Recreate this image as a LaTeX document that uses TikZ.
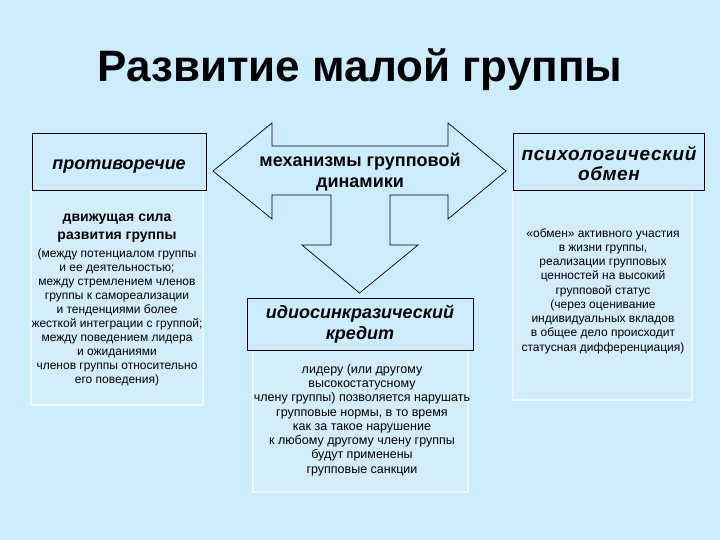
\documentclass[tikz,border=0pt]{standalone}
\usepackage{fontspec}
\setmainfont{Liberation Sans}
\definecolor{bg}{RGB}{204,236,255}
\definecolor{tbfill}{RGB}{212,237,251}
\definecolor{tbline}{RGB}{236,247,255}
\begin{document}
\begin{tikzpicture}[x=1pt,y=-1pt,
  hdr/.style={draw=black,line width=0.7pt,fill=bg},
  tbox/.style={draw=tbline,line width=1.2pt,fill=tbfill},
  hdrtxt/.style={font=\fontsize{18}{21}\selectfont\bfseries\itshape,align=center,inner sep=0pt},
  smalltxt/.style={font=\fontsize{12}{14.2}\selectfont,align=center,inner sep=0pt},
  boldtxt/.style={font=\fontsize{14}{18}\selectfont\bfseries,align=center,inner sep=0pt}]
\fill[bg] (0,0) rectangle (720,540);
\useasboundingbox (0,0) rectangle (720,540);
% title
\node[font=\fontsize{44}{50}\selectfont\bfseries,inner sep=0pt] (title) at (360,70) {Развитие малой группы};
% text boxes (lower)
\draw[tbox] (31,190) rectangle (203,405);
\draw[tbox] (253,350) rectangle (468,492);
\draw[tbox] (513,190) rectangle (692,400);
% header boxes
\draw[hdr] (32,133) rectangle (206,190);
\draw[hdr] (513,133) rectangle (704,190);
\draw[hdr] (247,298) rectangle (473,350);
% arrow shape
\draw[line width=0.7pt,fill=bg,line join=miter]
  (213,171) -- (272,123) -- (272,146) -- (448,146) -- (448,123) -- (506,171)
  -- (448,219) -- (448,195) -- (390,195) -- (390,245) -- (418,245) -- (359.5,293)
  -- (302,245) -- (331,245) -- (331,195) -- (272,195) -- (272,219) -- cycle;
% header texts
\node[hdrtxt] (contr) at (119,167) {противоречие};
\node[hdrtxt,font=\fontsize{19}{20.5}\selectfont\bfseries\itshape\addfontfeature{LetterSpace=3.5}] (psych) at (609,163.5) {психологический\\обмен};
\node[hdrtxt] (idio) at (360,324) {идиосинкразический\\кредит};
\node[font=\fontsize{18}{21.5}\selectfont\bfseries,align=center,inner sep=0pt] (mech) at (360,172) {механизмы групповой\\динамики};
% left text
\node[boldtxt] (drive) at (117,228.5) {движущая сила\\развития группы};
\node[smalltxt,font=\fontsize{12}{14.05}\selectfont] (lefttxt) at (117,317.5) {(между потенциалом группы\\и ее деятельностью;\\между стремлением членов\\группы к самореализации\\и тенденциями более\\жесткой интеграции с группой;\\между поведением лидера\\и ожиданиями\\членов группы относительно\\его поведения)};
% center text
\node[smalltxt,font=\fontsize{12.5}{14.3}\selectfont] (centtxt) at (362,420) {лидеру (или другому\\высокостатусному\\члену группы) позволяется нарушать\\групповые нормы, в то время\\как за такое нарушение\\к любому другому члену группы\\будут применены\\групповые санкции};
% right text
\node[smalltxt,font=\fontsize{12}{14.25}\selectfont] (righttxt) at (603,291) {«обмен» активного участия\\в жизни группы,\\реализации групповых\\ценностей на высокий\\групповой статус\\(через оценивание\\индивидуальных вкладов\\в общее дело происходит\\статусная дифференциация)};
\end{tikzpicture}
\end{document}
